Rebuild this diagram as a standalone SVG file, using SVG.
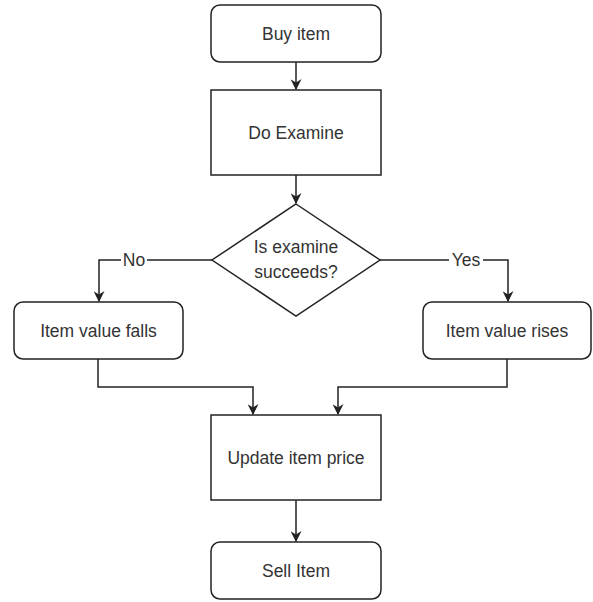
<svg xmlns="http://www.w3.org/2000/svg" width="593" height="602" viewBox="0 0 593 602">
<style>
.n{fill:#fff;stroke:#222;stroke-width:1.5}
.c{fill:none;stroke:#222;stroke-width:1.5}
text{font-family:"Liberation Sans",Arial,sans-serif;font-size:17.5px;fill:#333;text-anchor:middle;dominant-baseline:central}
.lbl{fill:#fff;stroke:none}
</style>
<defs>
<marker id="a" viewBox="0 0 10 10" refX="9" refY="5" markerWidth="11" markerHeight="11" markerUnits="userSpaceOnUse" orient="auto">
<path d="M0,0 L10,5 L0,10 L3,5 Z" fill="#222"/>
</marker>
</defs>
<rect width="593" height="602" fill="#fff"/>
<g id="connectors">
<path class="c" d="M296,62 V89" marker-end="url(#a)"/>
<path class="c" d="M296,175 V203" marker-end="url(#a)"/>
<path class="c" d="M212,260 H99 V301" marker-end="url(#a)"/>
<path class="c" d="M380,260 H508 V301" marker-end="url(#a)"/>
<path class="c" d="M98,359 V387 H253 V414" marker-end="url(#a)"/>
<path class="c" d="M507,359 V387 H338 V414" marker-end="url(#a)"/>
<path class="c" d="M296,500 V541" marker-end="url(#a)"/>
<rect class="lbl" x="121" y="250" width="26" height="20"/>
<text x="134" y="260">No</text>
<rect class="lbl" x="449" y="250" width="34" height="20"/>
<text x="466" y="260">Yes</text>
</g>
<g id="buy"><rect class="n" x="211" y="5" width="170" height="57" rx="9"/><text x="296" y="33.5">Buy item</text></g>
<g id="examine"><rect class="n" x="211" y="90" width="170" height="85"/><text x="296" y="132.5">Do Examine</text></g>
<g id="decision"><path class="n" d="M296,204 L380,260 L296,316 L212,260 Z"/><text x="296" y="247">Is examine</text><text x="296" y="272">succeeds?</text></g>
<g id="falls"><rect class="n" x="14" y="302" width="169" height="57" rx="9"/><text x="98.5" y="330.5">Item value falls</text></g>
<g id="rises"><rect class="n" x="423" y="302" width="168" height="57" rx="9"/><text x="507" y="330.5">Item value rises</text></g>
<g id="update"><rect class="n" x="211" y="415" width="170" height="85"/><text x="296" y="457.5">Update item price</text></g>
<g id="sell"><rect class="n" x="211" y="542" width="170" height="57" rx="9"/><text x="296" y="570.5">Sell Item</text></g>
</svg>
